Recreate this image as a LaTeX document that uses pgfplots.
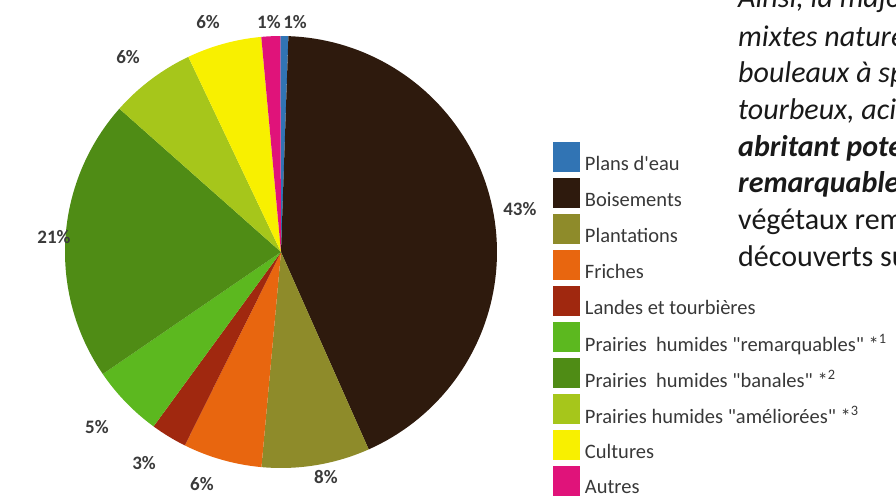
\documentclass[border=0pt]{standalone}
\usepackage{fontspec}
\setmainfont{Carlito}[Ligatures=TeXOff]
\usepackage{pgfplots}
\pgfplotsset{compat=1.18}

\definecolor{cPlans}{HTML}{3174B4}
\definecolor{cBois}{HTML}{2E1A0D}
\definecolor{cPlant}{HTML}{8E8B2A}
\definecolor{cFriche}{HTML}{E8660F}
\definecolor{cLande}{HTML}{A0280F}
\definecolor{cRemarq}{HTML}{5CB81F}
\definecolor{cBanal}{HTML}{4F8C15}
\definecolor{cAmel}{HTML}{A6C61B}
\definecolor{cCult}{HTML}{F8F000}
\definecolor{cAutre}{HTML}{E0137A}
\definecolor{lbltext}{HTML}{3A3A3A}
\definecolor{legtext}{HTML}{383838}

% one pie slice: cumulative start (%), cumulative end (%), colour
\newcommand{\pieslice}[3]{%
  \addplot[draw=none, fill=#3, domain={90.2-3.6*#2}:{90.2-3.6*#1},
           samples=90, variable=\t] ({cos(t)},{sin(t)}) -- (axis cs:0,0) -- cycle;
}

\begin{document}
\begin{tikzpicture}[x=1pt,y=1pt,
  lbl/.style={font=\bfseries\fontsize{19}{19}\selectfont, text=lbltext}]
\begin{axis}[
  at={(281pt,246pt)}, anchor=center,
  scale only axis, width=432pt, height=432pt,
  xmin=-1, xmax=1, ymin=-1, ymax=1,
  hide axis, clip=false,
  legend image code/.code={\fill[#1] (0pt,-9pt) rectangle (27pt,21pt);},
  legend cell align=left,
  legend style={
    at={(1.1296,0.7546)}, anchor=north west,
    draw=none, fill=none, inner sep=0pt, outer sep=0pt,
    row sep=6pt, column sep=5pt,
    nodes={inner sep=0pt, text depth=0pt},
    font=\fontsize{20.5}{20.5}\selectfont, text=legtext,
  },
]
% values (%) in legend order, drawn clockwise from the top:
% Plans d'eau 0.6, Boisements 42.8, Plantations 8.1, Friches 5.9,
% Landes 2.7, Remarquables 5.4, Banales 21.1, Ameliorees 6.4,
% Cultures 5.6, Autres 1.4
\pieslice{0}{0.6}{cPlans}       \addlegendentry{Plans d'eau}
\pieslice{0.6}{43.4}{cBois}     \addlegendentry{Boisements}
\pieslice{43.4}{51.5}{cPlant}   \addlegendentry{Plantations}
\pieslice{51.5}{57.4}{cFriche}  \addlegendentry{Friches}
\pieslice{57.4}{60.1}{cLande}   \addlegendentry{Landes et tourbières}
\pieslice{60.1}{65.5}{cRemarq}  \addlegendentry{Prairies\ \ humides "remarquables" *\textsuperscript{1}}
\pieslice{65.5}{86.6}{cBanal}   \addlegendentry{Prairies\ \ humides "banales" *\textsuperscript{2}}
\pieslice{86.6}{93.0}{cAmel}    \addlegendentry{Prairies humides "améliorées" *\textsuperscript{3}}
\pieslice{93.0}{98.6}{cCult}    \addlegendentry{Cultures}
\pieslice{98.6}{100}{cAutre}    \addlegendentry{Autres}

\node[lbl] at (axis cs:0.065,1.065) {1\%};
\node[lbl] at (axis cs:1.106,0.199) {43\%};
\node[lbl] at (axis cs:0.208,-1.042) {8\%};
\node[lbl] at (axis cs:-0.366,-1.074) {6\%};
\node[lbl] at (axis cs:-0.634,-0.977) {3\%};
\node[lbl] at (axis cs:-0.852,-0.810) {5\%};
\node[lbl] at (axis cs:-1.051,0.069) {21\%};
\node[lbl] at (axis cs:-0.708,0.903) {6\%};
\node[lbl] at (axis cs:-0.338,1.065) {6\%};
\node[lbl] at (axis cs:-0.056,1.065) {1\%};
\end{axis}

\begin{scope}[every node/.style={anchor=base west, inner sep=0pt, text=black!90,
      font=\fontsize{30}{30}\selectfont}]
\node[font=\fontsize{30}{30}\selectfont\itshape] at (738,490) {Ainsi, la majorité des};
\node[font=\fontsize{30}{30}\selectfont\itshape] at (738,451) {mixtes naturels};
\node[font=\fontsize{30}{30}\selectfont\itshape] at (738,415) {bouleaux à sphaignes};
\node[font=\fontsize{30}{30}\selectfont\itshape] at (738,378) {tourbeux, acides};
\node[font=\fontsize{30}{30}\selectfont\bfseries\itshape] at (738,341) {abritant potentiellement};
\node[font=\fontsize{30}{30}\selectfont\bfseries\itshape] at (738,305) {remarquables};
\node at (738,268) {végétaux remarquables};
\node at (738,231) {découverts sur};
\end{scope}

\pgfresetboundingbox
\path[use as bounding box] (0,0) rectangle (896,498);
\end{tikzpicture}
\end{document}
